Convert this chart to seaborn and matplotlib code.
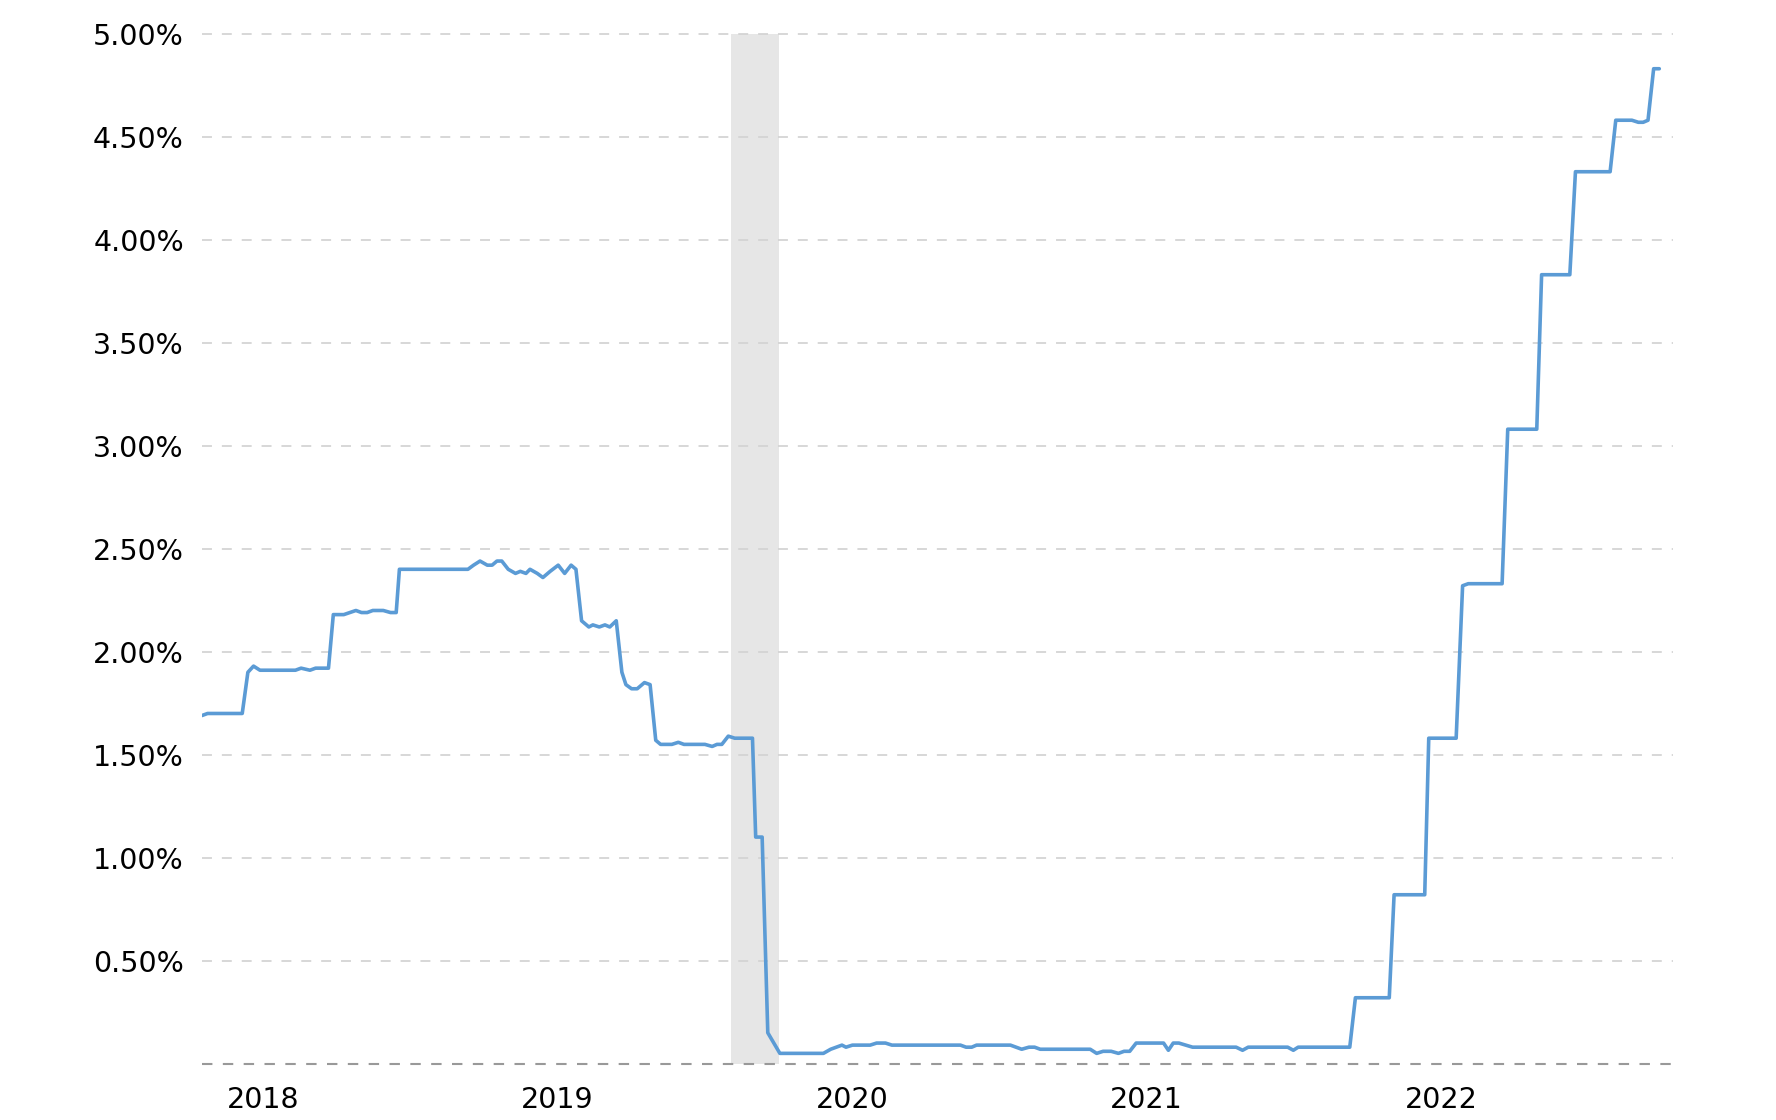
import pandas as pd
import matplotlib
matplotlib.use("Agg")
import matplotlib.pyplot as plt
import seaborn as sns

# weekly rate, only the weeks where the line changes direction
dates = ["2018-04-16", "2018-04-23", "2018-06-05", "2018-06-12", "2018-06-19", "2018-06-27",
         "2018-08-10", "2018-08-17", "2018-08-28", "2018-09-04", "2018-09-20", "2018-09-26",
         "2018-10-09", "2018-10-24", "2018-10-31", "2018-11-07", "2018-11-14", "2018-11-27",
         "2018-12-06", "2018-12-13", "2018-12-17",
         "2019-03-12", "2019-03-19", "2019-03-27", "2019-04-05", "2019-04-11", "2019-04-17",
         "2019-04-23", "2019-05-01", "2019-05-10", "2019-05-16", "2019-05-23", "2019-05-28",
         "2019-06-06", "2019-06-13", "2019-06-22", "2019-07-02", "2019-07-10", "2019-07-18",
         "2019-07-24", "2019-07-31", "2019-08-09", "2019-08-14", "2019-08-22", "2019-08-29",
         "2019-09-04", "2019-09-12", "2019-09-19", "2019-09-24", "2019-10-01", "2019-10-08",
         "2019-10-17", "2019-10-24", "2019-10-31", "2019-11-06", "2019-11-20", "2019-11-28",
         "2019-12-05", "2019-12-31",
         "2020-01-09", "2020-01-15", "2020-01-21", "2020-01-29", "2020-02-06", "2020-02-28",
         "2020-03-03", "2020-03-11", "2020-03-18", "2020-04-02", "2020-05-26", "2020-06-04",
         "2020-06-18", "2020-06-23", "2020-07-01", "2020-07-23", "2020-07-31", "2020-08-11",
         "2020-08-19", "2020-11-12", "2020-11-19", "2020-11-26", "2020-12-02",
         "2021-01-13", "2021-01-27", "2021-02-05", "2021-02-12", "2021-02-19", "2021-04-22",
         "2021-04-30", "2021-05-08", "2021-05-18", "2021-05-27", "2021-06-03", "2021-06-10",
         "2021-06-18", "2021-07-22", "2021-07-28", "2021-08-03", "2021-08-10", "2021-08-27",
         "2021-10-20", "2021-10-28", "2021-11-04", "2021-12-23", "2021-12-30",
         "2022-01-05", "2022-03-10", "2022-03-17", "2022-04-28", "2022-05-04", "2022-06-11",
         "2022-06-16", "2022-07-20", "2022-07-28", "2022-08-04", "2022-09-15", "2022-09-22",
         "2022-10-28", "2022-11-03", "2022-12-08", "2022-12-15",
         "2023-01-27", "2023-02-03", "2023-02-23", "2023-03-03", "2023-03-09", "2023-03-15",
         "2023-03-22", "2023-03-29"]

rates = [1.69, 1.70, 1.70, 1.90, 1.93, 1.91,
         1.91, 1.92, 1.91, 1.92, 1.92, 2.18,
         2.18, 2.20, 2.19, 2.19, 2.20, 2.20,
         2.19, 2.19, 2.40,
         2.40, 2.42, 2.44, 2.42, 2.42, 2.44,
         2.44, 2.40, 2.38, 2.39, 2.38, 2.40,
         2.38, 2.36, 2.39, 2.42, 2.38, 2.42,
         2.40, 2.15, 2.12, 2.13, 2.12, 2.13,
         2.12, 2.15, 1.90, 1.84, 1.82, 1.82,
         1.85, 1.84, 1.57, 1.55, 1.55, 1.56,
         1.55, 1.55,
         1.54, 1.55, 1.55, 1.59, 1.58, 1.58,
         1.10, 1.10, 0.15, 0.05, 0.05, 0.07,
         0.09, 0.08, 0.09, 0.09, 0.10, 0.10,
         0.09, 0.09, 0.08, 0.08, 0.09,
         0.09, 0.07, 0.08, 0.08, 0.07, 0.07,
         0.05, 0.06, 0.06, 0.05, 0.06, 0.06,
         0.10, 0.10, 0.065, 0.10, 0.10, 0.08,
         0.08, 0.065, 0.08, 0.08, 0.065,
         0.08, 0.08, 0.32, 0.32, 0.82, 0.82,
         1.58, 1.58, 2.32, 2.33, 2.33, 3.08,
         3.08, 3.83, 3.83, 4.33,
         4.33, 4.58, 4.58, 4.57, 4.57, 4.58,
         4.83, 4.83]

recession = ["2020-02-01", "2020-04-01"]
years = ["2018", "2019", "2020", "2021", "2022"]
y_ticks = [0.5, 1.0, 1.5, 2.0, 2.5, 3.0, 3.5, 4.0, 4.5, 5.0]

df = pd.DataFrame({"date": pd.to_datetime(dates), "rate": rates})

sns.set_style("white")
plt.rcParams["font.family"] = ["DejaVu Sans"]

fig = plt.figure(figsize=(17.76, 11.2), dpi=100)
ax = fig.add_axes([0.1137, 0.0503, 0.8283, 0.9196])

# recession band
ax.axvspan(pd.Timestamp(recession[0]), pd.Timestamp(recession[1]),
           color="#e6e6e6", lw=0, zorder=0)

# dashed grid
for v in y_ticks:
    ax.axhline(v, color="#d4d4d4", lw=1.3, ls=(0, (5.5, 5.5)), zorder=1, clip_on=False)
ax.axhline(0, color="#999999", lw=1.5, ls=(0, (5, 5)), zorder=1, clip_on=False)

sns.lineplot(data=df, x="date", y="rate", color="#5b9bd5", linewidth=2.6,
             ax=ax, zorder=3)

ax.set_xlim(pd.Timestamp("2018-04-16"), pd.Timestamp("2023-04-15"))
ax.set_ylim(0, 5.0)

ax.set_yticks(y_ticks)
ax.set_yticklabels(["%.2f%%" % v for v in y_ticks])
ax.set_xticks([pd.Timestamp(y + "-07-01") for y in years])
ax.set_xticklabels(years)

ax.tick_params(axis="both", length=0, labelsize=20.5, colors="black")
ax.tick_params(axis="y", pad=13)
ax.tick_params(axis="x", pad=16)
ax.set_xlabel("")
ax.set_ylabel("")
sns.despine(ax=ax, left=True, bottom=True)
ax.grid(False)

fig.savefig("out.png", dpi=100)
